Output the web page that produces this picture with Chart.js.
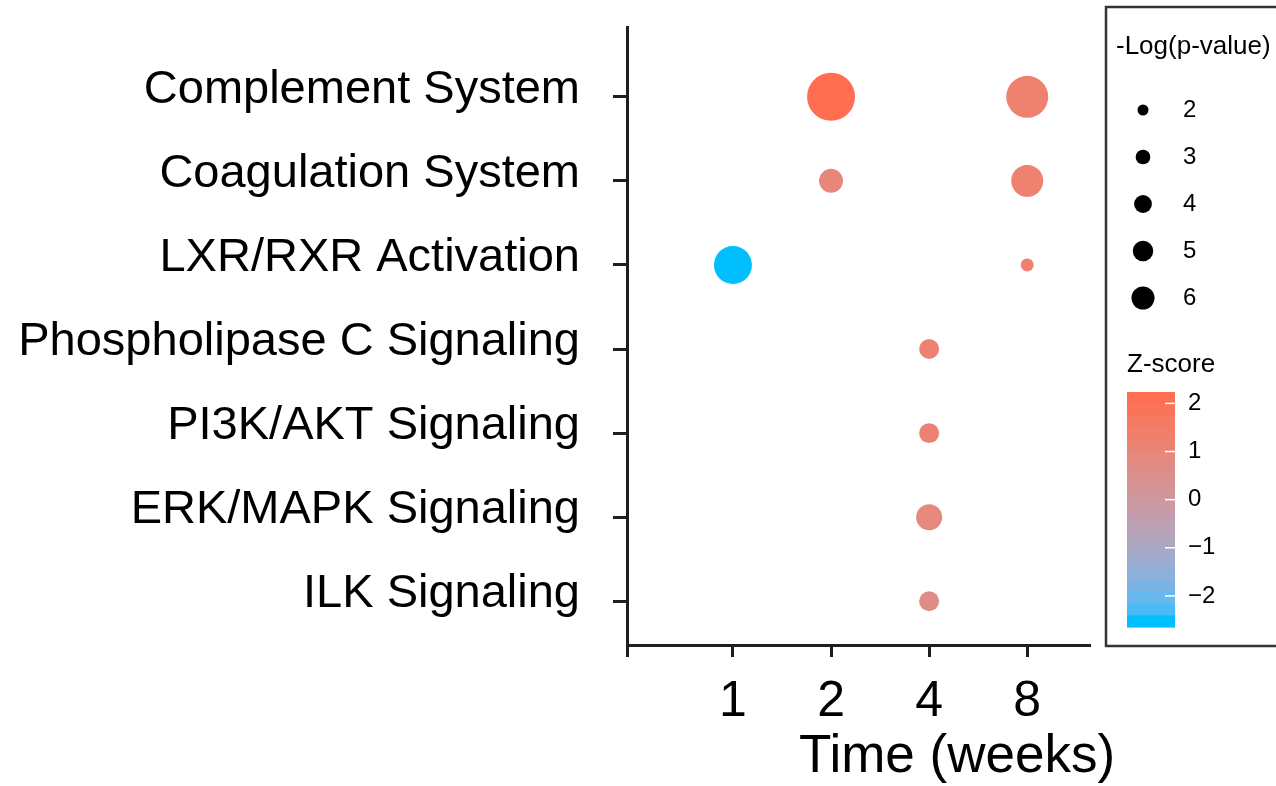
<!DOCTYPE html>
<html>
<head>
<meta charset="utf-8">
<script src="https://cdn.jsdelivr.net/npm/chart.js@4.4.0/dist/chart.umd.min.js"></script>
<style>
  html, body { margin: 0; padding: 0; background: #ffffff; }
</style>
</head>
<body>
<canvas id="grafico" width="1276" height="786"></canvas>
<script>
/* =========================================================
   DADOS
========================================================= */

const vias = [
  'Complement System',
  'Coagulation System',
  'LXR/RXR Activation',
  'Phospholipase C Signaling',
  'PI3K/AKT Signaling',
  'ERK/MAPK Signaling',
  'ILK Signaling'
];

const semanas = ['1', '2', '4', '8'];

// -Log(p-value) por via (linhas) e semana (colunas)
const logP = [
  [null, 6.42, null, 5.18],
  [null, 2.25, null, 3.40],
  [4.42, null, null, 1.05],
  [null, null, 1.76, null],
  [null, null, 1.76, null],
  [null, null, 2.52, null],
  [null, null, 1.76, null]
];

// Z-score por via e semana
const zScore = [
  [null, 2.236, null, 1.342],
  [null, 1.0, null, 1.342],
  [-2.646, null, null, 1.342],
  [null, null, 1.265, null],
  [null, null, 1.265, null],
  [null, null, 0.905, null],
  [null, null, 0.707, null]
];

const quebrasTamanho = [2, 3, 4, 5, 6];
const quebrasZ = [2, 1, 0, -1, -2];
const rotulosZ = ['2', '1', '0', '\u22121', '\u22122'];

const tituloEixoX = 'Time (weeks)';
const tituloTamanho = '-Log(p-value)';
const tituloCor = 'Z-score';


/* =========================================================
   ESCALAS DE TAMANHO E COR
========================================================= */

const FONTE = '"Liberation Sans", Arial, sans-serif';

function raio(v) {
  return 11.6 * Math.sqrt(v) - 5.4;
}

const COR_BAIXA = [0, 191, 255];
const COR_ALTA = [255, 110, 80];

function rgbParaLab([r, g, b]) {
  const lin = c => {
    c /= 255;
    return c > 0.04045 ? Math.pow((c + 0.055) / 1.055, 2.4) : c / 12.92;
  };
  const R = lin(r), G = lin(g), B = lin(b);
  const X = (R * 0.4124 + G * 0.3576 + B * 0.1805) / 0.95047;
  const Y = (R * 0.2126 + G * 0.7152 + B * 0.0722);
  const Z = (R * 0.0193 + G * 0.1192 + B * 0.9505) / 1.08883;
  const f = t => t > 0.008856 ? Math.cbrt(t) : 7.787 * t + 16 / 116;
  return [116 * f(Y) - 16, 500 * (f(X) - f(Y)), 200 * (f(Y) - f(Z))];
}

function labParaRgb([L, a, b]) {
  const fy = (L + 16) / 116;
  const fx = fy + a / 500;
  const fz = fy - b / 200;
  const inv = t => t * t * t > 0.008856 ? t * t * t : (t - 16 / 116) / 7.787;
  const X = inv(fx) * 0.95047, Y = inv(fy), Z = inv(fz) * 1.08883;
  const R = X * 3.2406 + Y * -1.5372 + Z * -0.4986;
  const G = X * -0.9689 + Y * 1.8758 + Z * 0.0415;
  const B = X * 0.0557 + Y * -0.2040 + Z * 1.0570;
  const gam = c => {
    c = c > 0.0031308 ? 1.055 * Math.pow(c, 1 / 2.4) - 0.055 : 12.92 * c;
    return Math.round(Math.min(1, Math.max(0, c)) * 255);
  };
  return [gam(R), gam(G), gam(B)];
}

const labBaixa = rgbParaLab(COR_BAIXA);
const labAlta = rgbParaLab(COR_ALTA);

const todosZ = zScore.flat().filter(v => v !== null);
const zMin = Math.min(...todosZ);
const zMax = Math.max(...todosZ);

function corZ(z) {
  const t = (z - zMin) / (zMax - zMin);
  const lab = labBaixa.map((v, i) => v + t * (labAlta[i] - v));
  const [r, g, b] = labParaRgb(lab);
  return `rgb(${r},${g},${b})`;
}


/* =========================================================
   PONTOS
========================================================= */

const pontos = [];
const coresPontos = [];

vias.forEach((via, i) => {
  semanas.forEach((semana, j) => {
    if (logP[i][j] === null) return;
    pontos.push({ x: j + 1, y: i, r: raio(logP[i][j]) });
    coresPontos.push(corZ(zScore[i][j]));
  });
});


/* =========================================================
   LEGENDA LATERAL + TÍTULO DO EIXO X
========================================================= */

const legendaLateral = {
  id: 'legendaLateral',
  afterDraw(chart) {
    const ctx = chart.ctx;
    ctx.save();

    // título do eixo x
    ctx.fillStyle = '#000';
    ctx.font = `53px ${FONTE}`;
    ctx.textAlign = 'center';
    ctx.textBaseline = 'middle';
    ctx.fillText(tituloEixoX, 957, 757);

    // moldura
    ctx.strokeStyle = '#333';
    ctx.lineWidth = 2.5;
    ctx.strokeRect(1106, 7, 220, 639);

    // tamanho
    ctx.textAlign = 'left';
    ctx.font = `26px ${FONTE}`;
    ctx.fillText(tituloTamanho, 1116, 47);

    ctx.font = `24px ${FONTE}`;
    quebrasTamanho.forEach((v, k) => {
      const y = 110 + k * 47;
      ctx.beginPath();
      ctx.arc(1143, y, raio(v) / 2, 0, Math.PI * 2);
      ctx.fillStyle = '#000';
      ctx.fill();
      ctx.fillText(String(v), 1183, y);
    });

    // cor
    ctx.font = `26px ${FONTE}`;
    ctx.fillText(tituloCor, 1127, 365);

    const topo = 392, altura = 235, esq = 1127, larg = 48;
    const bins = 20;
    for (let k = 0; k < bins; k++) {
      const z = zMax - k / (bins - 1) * (zMax - zMin);
      ctx.fillStyle = corZ(z);
      ctx.fillRect(esq, topo + k * altura / bins, larg, altura / bins + 0.6);
    }

    ctx.font = `24px ${FONTE}`;
    quebrasZ.forEach((z, k) => {
      const y = topo + (zMax - z) / (zMax - zMin) * altura;
      ctx.strokeStyle = '#ffffff';
      ctx.lineWidth = 1.5;
      ctx.beginPath();
      ctx.moveTo(esq + larg - 10, y);
      ctx.lineTo(esq + larg, y);
      ctx.stroke();
      ctx.fillStyle = '#000';
      ctx.fillText(rotulosZ[k], 1188, y);
    });

    ctx.restore();
  }
};


/* =========================================================
   GRÁFICO
========================================================= */

const COR_EIXO = '#1e1e1e';

new Chart(document.getElementById('grafico'), {
  type: 'bubble',
  data: {
    datasets: [{
      data: pontos,
      backgroundColor: coresPontos,
      borderWidth: 0,
      hoverBorderWidth: 0
    }]
  },
  options: {
    responsive: false,
    animation: false,
    layout: {
      padding: { top: 27, right: 186, left: 0, bottom: 0 }
    },
    plugins: {
      legend: { display: false },
      tooltip: { enabled: false }
    },
    scales: {
      x: {
        type: 'linear',
        min: -0.08,
        max: 4.64,
        afterBuildTicks: scale => {
          scale.ticks = [{ value: -0.08 }].concat(semanas.map((s, j) => ({ value: j + 1 })));
        },
        afterFit: scale => {
          scale.height = 141;
          scale.paddingLeft = 0;
          scale.paddingRight = 0;
        },
        ticks: {
          autoSkip: false,
          maxRotation: 0,
          color: '#000',
          padding: 15,
          font: { family: FONTE, size: 50 },
          callback: value => value < 0 ? '' : semanas[Math.round(value) - 1]
        },
        grid: {
          drawOnChartArea: false,
          tickLength: 12,
          tickWidth: 3,
          tickColor: COR_EIXO
        },
        border: { display: true, width: 3, color: COR_EIXO }
      },
      y: {
        type: 'linear',
        reverse: true,
        min: -0.83,
        max: 6.52,
        afterBuildTicks: scale => {
          scale.ticks = vias.map((v, i) => ({ value: i }));
        },
        afterFit: scale => {
          scale.width = 627;
          scale.paddingTop = 0;
          scale.paddingBottom = 0;
        },
        ticks: {
          autoSkip: false,
          color: '#000',
          padding: 33,
          labelOffset: -7,
          font: { family: FONTE, size: 47 },
          callback: value => vias[value]
        },
        grid: {
          drawOnChartArea: false,
          tickLength: 14,
          tickWidth: 3,
          tickColor: COR_EIXO
        },
        border: { display: true, width: 3, color: COR_EIXO }
      }
    }
  },
  plugins: [legendaLateral]
});
</script>
</body>
</html>
